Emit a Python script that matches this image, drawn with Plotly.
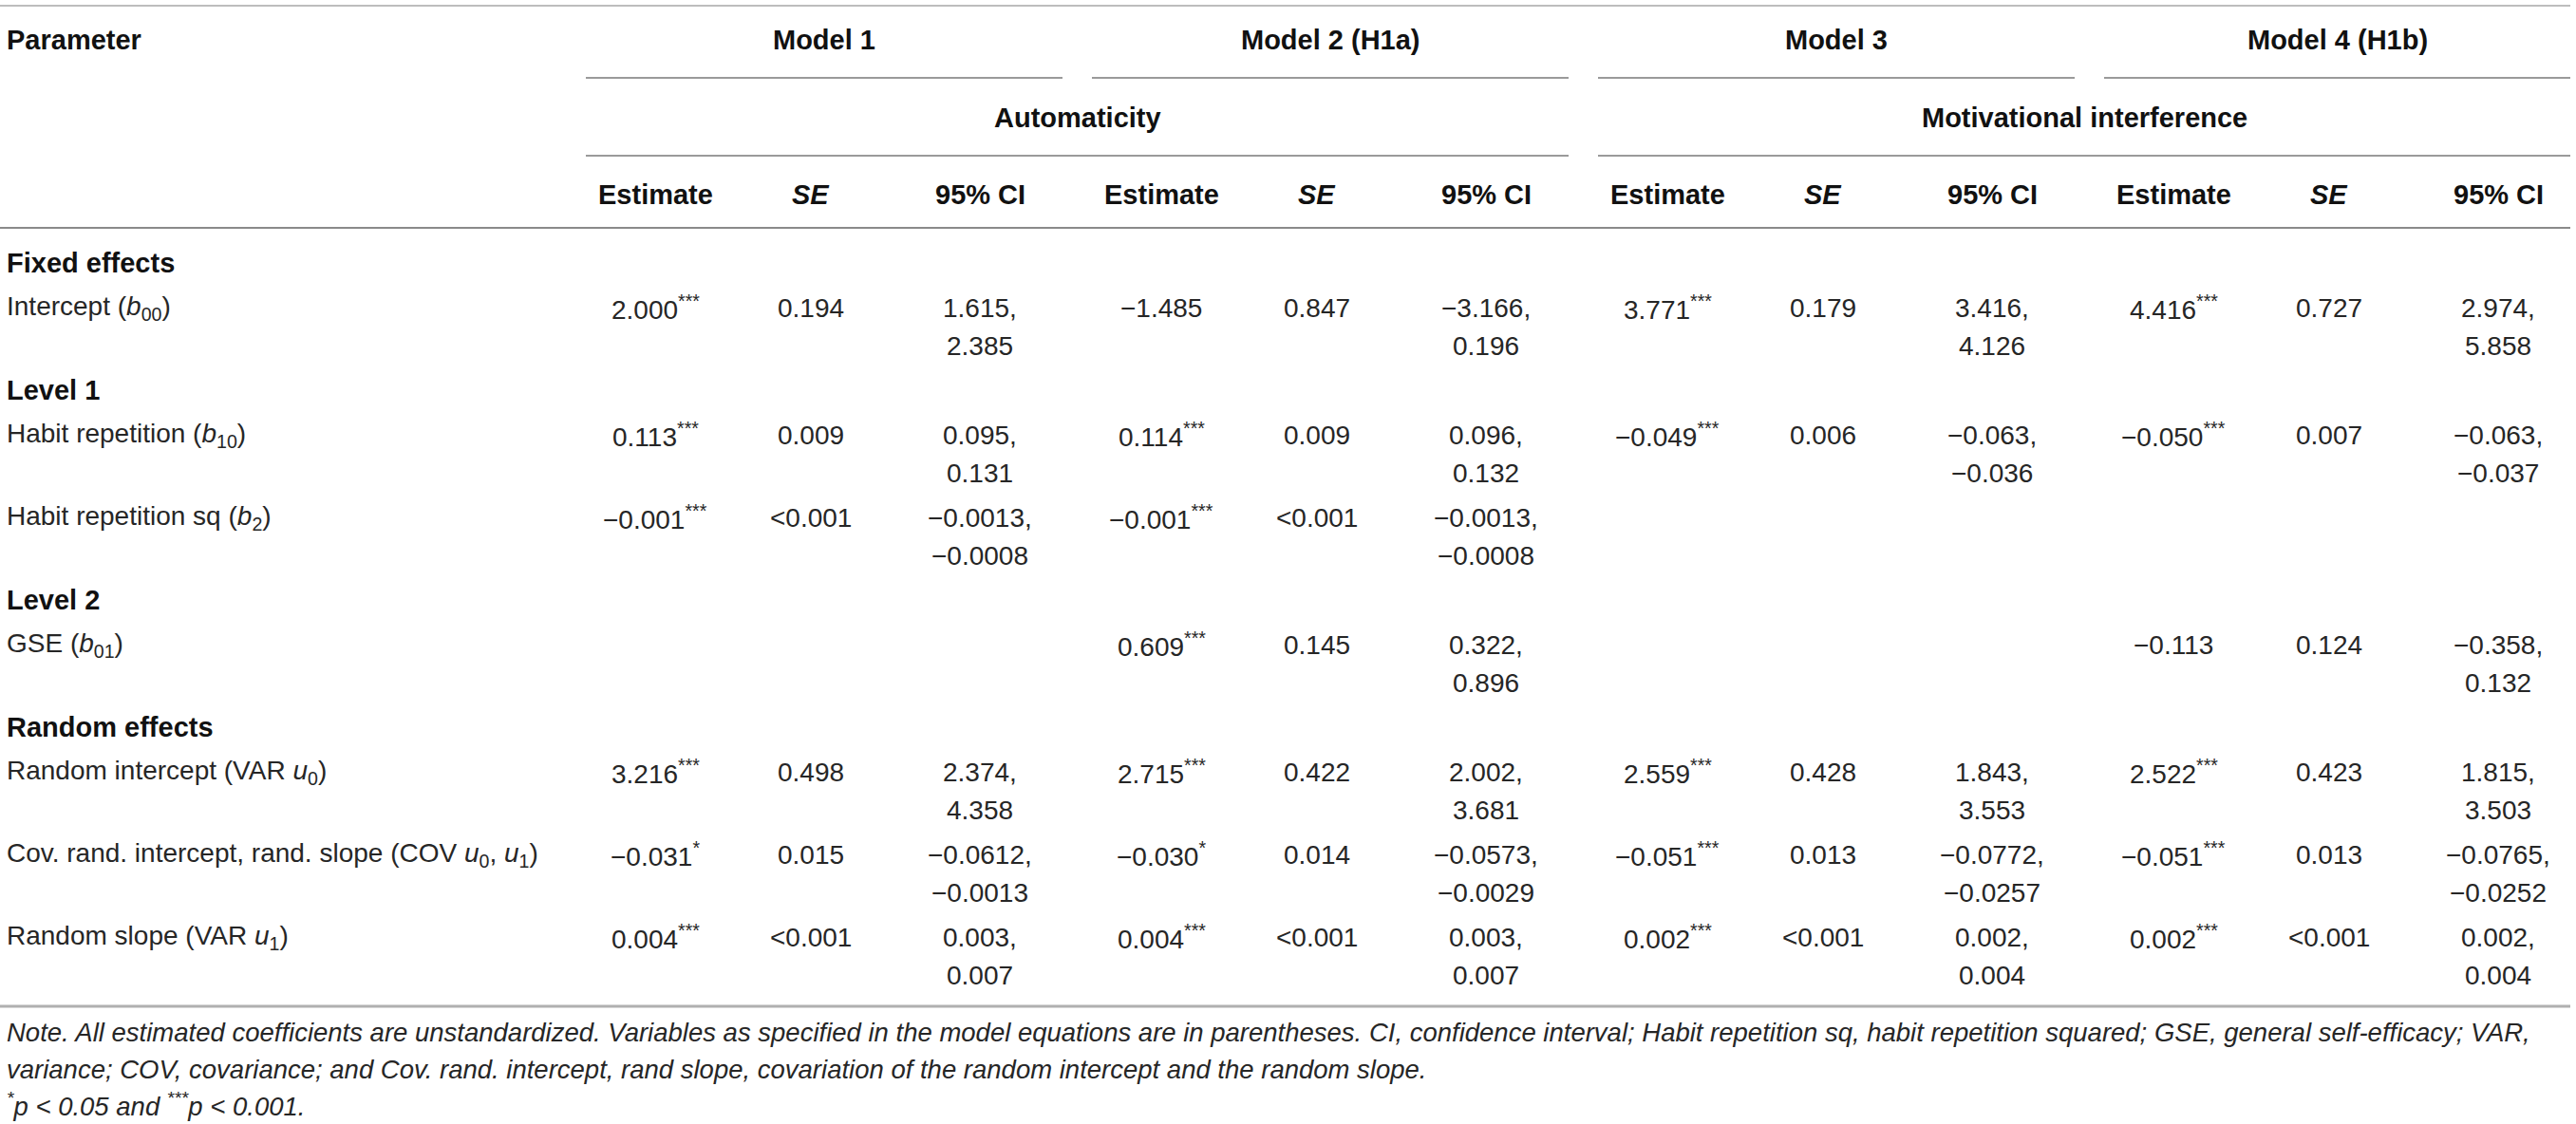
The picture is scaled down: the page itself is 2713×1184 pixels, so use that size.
import plotly.graph_objects as go

# ---- table content ----
sections = ["Fixed effects", "Level 1", "Level 2", "Random effects"]
row_section = ["Fixed effects", "Level 1", "Level 1", "Level 2",
               "Random effects", "Random effects", "Random effects"]
parameters = [
    "Intercept (<i>b</i><sub>00</sub>)",
    "Habit repetition (<i>b</i><sub>10</sub>)",
    "Habit repetition sq (<i>b</i><sub>2</sub>)",
    "GSE (<i>b</i><sub>01</sub>)",
    "Random intercept (VAR <i>u</i><sub>0</sub>)",
    "Cov. rand. intercept, rand. slope (COV <i>u</i><sub>0</sub>, <i>u</i><sub>1</sub>)",
    "Random slope (VAR <i>u</i><sub>1</sub>)",
]

model_names = ["Model 1", "Model 2 (H1a)", "Model 3", "Model 4 (H1b)"]
outcomes = ["Automaticity", "Motivational interference"]
sub_headers = ["Estimate", "<i>SE</i>", "95% CI"]

m1_est = ["2.000", "0.113", "−0.001", "", "3.216", "−0.031", "0.004"]
m1_sig = ["***", "***", "***", "", "***", "*", "***"]
m1_se = ["0.194", "0.009", "&lt;0.001", "", "0.498", "0.015", "&lt;0.001"]
m1_ci_lo = ["1.615", "0.095", "−0.0013", "", "2.374", "−0.0612", "0.003"]
m1_ci_hi = ["2.385", "0.131", "−0.0008", "", "4.358", "−0.0013", "0.007"]

m2_est = ["−1.485", "0.114", "−0.001", "0.609", "2.715", "−0.030", "0.004"]
m2_sig = ["", "***", "***", "***", "***", "*", "***"]
m2_se = ["0.847", "0.009", "&lt;0.001", "0.145", "0.422", "0.014", "&lt;0.001"]
m2_ci_lo = ["−3.166", "0.096", "−0.0013", "0.322", "2.002", "−0.0573", "0.003"]
m2_ci_hi = ["0.196", "0.132", "−0.0008", "0.896", "3.681", "−0.0029", "0.007"]

m3_est = ["3.771", "−0.049", "", "", "2.559", "−0.051", "0.002"]
m3_sig = ["***", "***", "", "", "***", "***", "***"]
m3_se = ["0.179", "0.006", "", "", "0.428", "0.013", "&lt;0.001"]
m3_ci_lo = ["3.416", "−0.063", "", "", "1.843", "−0.0772", "0.002"]
m3_ci_hi = ["4.126", "−0.036", "", "", "3.553", "−0.0257", "0.004"]

m4_est = ["4.416", "−0.050", "", "−0.113", "2.522", "−0.051", "0.002"]
m4_sig = ["***", "***", "", "", "***", "***", "***"]
m4_se = ["0.727", "0.007", "", "0.124", "0.423", "0.013", "&lt;0.001"]
m4_ci_lo = ["2.974", "−0.063", "", "−0.358", "1.815", "−0.0765", "0.002"]
m4_ci_hi = ["5.858", "−0.037", "", "0.132", "3.503", "−0.0252", "0.004"]

models = [
    (m1_est, m1_sig, m1_se, m1_ci_lo, m1_ci_hi),
    (m2_est, m2_sig, m2_se, m2_ci_lo, m2_ci_hi),
    (m3_est, m3_sig, m3_se, m3_ci_lo, m3_ci_hi),
    (m4_est, m4_sig, m4_se, m4_ci_lo, m4_ci_hi),
]

note_lines = [
    "Note. All estimated coefficients are unstandardized. Variables as specified in the model equations are in "
    "parentheses. CI, confidence interval; Habit repetition sq, habit repetition squared; GSE, general self-efficacy; VAR,",
    "variance; COV, covariance; and Cov. rand. intercept, rand slope, covariation of the random intercept and the random slope.",
    "<sup>*</sup>p &lt; 0.05 and <sup>***</sup>p &lt; 0.001.",
]

# ---- layout constants ----
W, H = 2713, 1184
FONT = "Liberation Sans, Arial, Helvetica, sans-serif"
SIZE = 28
HEAD_SIZE = 29
NOTE_SIZE = 27.5
TXT = "#262626"
HEAD = "#111111"
LEFT = 5
RIGHT = 2707
GROUP_STEP = 533
COL_OFF = [690, 854, 1032]      # estimate, SE, CI centres for model 1
SEG_START, SEG_END = 617, 1119  # model 1 header rule
HDR_Y = [42, 124, 205]
LINE_Y = [6, 82, 164, 240]
BODY_Y0 = 277
SEC_STEP, ROW_STEP, LINE_GAP = 47, 87, 40
BOTTOM_Y = 1060
NOTE_Y = [1087, 1126, 1163]

fig = go.Figure()
fig.add_trace(go.Scatter(x=[0, W], y=[0, H], mode="markers",
                         marker=dict(opacity=0), hoverinfo="skip", showlegend=False))

def text(x, y, s, anchor="center", bold=False, size=SIZE, color=TXT, italic=False):
    if bold:
        s = "<b>" + s + "</b>"
    if italic:
        s = "<i>" + s + "</i>"
    fig.add_annotation(x=x, y=y, xref="x", yref="y", text=s, showarrow=False,
                       xanchor=anchor, yanchor="middle",
                       font=dict(family=FONT, size=size, color=color))

def hline(x0, x1, y, color, width):
    fig.add_shape(type="line", xref="x", yref="y", x0=x0, x1=x1, y0=y, y1=y,
                  line=dict(color=color, width=width))

# header
text(LEFT, HDR_Y[0], "Parameter", anchor="left", bold=True, size=HEAD_SIZE, color=HEAD)
seg = []
for k, name in enumerate(model_names):
    x0 = SEG_START + GROUP_STEP * k
    x1 = min(SEG_END + GROUP_STEP * k, RIGHT)
    seg.append((x0, x1))
    text((x0 + x1) / 2, HDR_Y[0], name, bold=True, size=HEAD_SIZE, color=HEAD)
    hline(x0, x1, LINE_Y[1], "#9a9a9a", 2)
    for j, sh in enumerate(sub_headers):
        text(COL_OFF[j] + GROUP_STEP * k, HDR_Y[2], sh, bold=True, size=HEAD_SIZE, color=HEAD)
for i, name in enumerate(outcomes):
    x0 = seg[2 * i][0]
    x1 = seg[2 * i + 1][1]
    text((x0 + x1) / 2, HDR_Y[1], name, bold=True, size=HEAD_SIZE, color=HEAD)
    hline(x0, x1, LINE_Y[2], "#9a9a9a", 2)

hline(0, RIGHT, LINE_Y[0], "#bdbdbd", 2)
hline(0, RIGHT, LINE_Y[3], "#8a8a8a", 2)

# body
y = BODY_Y0
current = None
for r, label in enumerate(parameters):
    if row_section[r] != current:
        current = row_section[r]
        text(LEFT, y, current, anchor="left", bold=True, size=HEAD_SIZE, color=HEAD)
        y += SEC_STEP
    text(LEFT, y, label, anchor="left")
    for k, (est, sig, se, lo, hi) in enumerate(models):
        if est[r]:
            s = est[r] + ("<sup>" + sig[r] + "</sup>" if sig[r] else "")
            text(COL_OFF[0] + GROUP_STEP * k, y, s)
        if se[r]:
            text(COL_OFF[1] + GROUP_STEP * k, y, se[r])
        if lo[r]:
            text(COL_OFF[2] + GROUP_STEP * k, y, lo[r] + ",")
            text(COL_OFF[2] + GROUP_STEP * k, y + LINE_GAP, hi[r])
    y += ROW_STEP

hline(0, RIGHT, BOTTOM_Y, "#b0b0b0", 3)

for ny, line in zip(NOTE_Y, note_lines):
    text(LEFT, ny, line, anchor="left", italic=True, size=NOTE_SIZE)

fig.update_layout(
    width=W, height=H,
    margin=dict(l=0, r=0, t=0, b=0),
    paper_bgcolor="white", plot_bgcolor="white",
    xaxis=dict(range=[0, W], visible=False, fixedrange=True),
    yaxis=dict(range=[H, 0], visible=False, fixedrange=True),
    showlegend=False,
)

fig.write_html("out.html", config={"displayModeBar": False},
               post_script="document.body.style.margin='0';document.body.style.overflow='hidden';")
